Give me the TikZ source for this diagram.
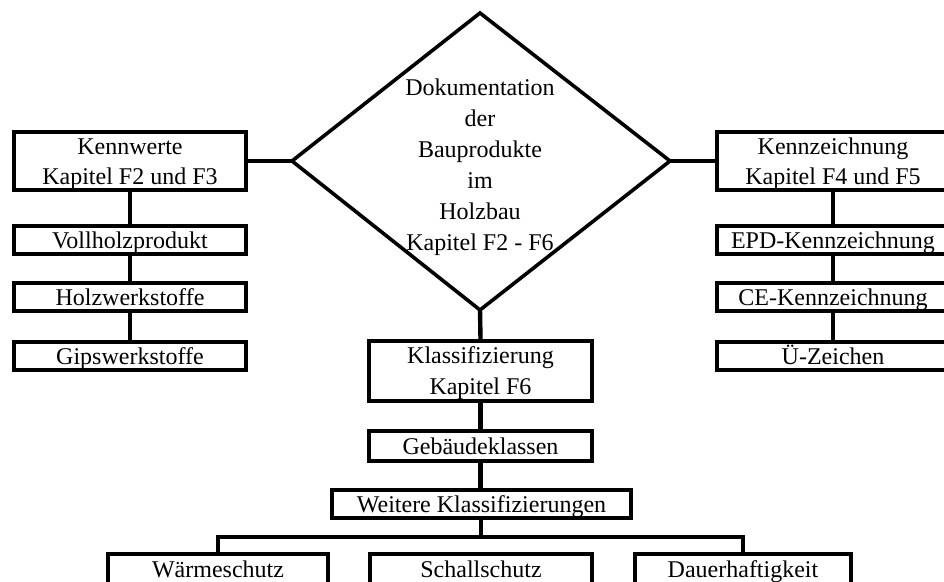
\documentclass[tikz,border=0pt]{standalone}
\usepackage{fontspec}
\setmainfont{Liberation Serif}
\begin{document}
\begin{tikzpicture}[x=1pt,y=-1pt,
  every node/.style={font=\fontsize{24}{30}\selectfont},
  box/.style={draw, line width=4.4pt, inner sep=0pt, align=center, text height=20pt, text depth=4pt},
  mbox/.style={draw, line width=4.4pt, inner sep=0pt, align=center},
  conn/.style={line width=4.4pt}]
\useasboundingbox (0,0) rectangle (944,581);
\clip (0,0) rectangle (944,581);
\fill[white] (0,0) rectangle (944,581);
% diamond
\coordinate (dt) at (480,13);
\coordinate (dl) at (292,161);
\coordinate (dr) at (670,161);
\coordinate (db) at (480,310);
\draw[line width=3.6pt, line join=miter] (dt) -- (dr) -- (db) -- (dl) -- cycle;
\node[align=center, font=\fontsize{24}{31}\selectfont] (dtext) at (480,167)
  {Dokumentation\\der\\Bauprodukte\\im\\Holzbau\\Kapitel F2 - F6};
% left column
\node[mbox, minimum width=232pt, minimum height=58pt] (kw) at (130,161) {\rule{0pt}{23pt}Kennwerte\\Kapitel F2 und F3};
\node[box, minimum width=232pt, minimum height=28pt] (vh) at (130,240) {Vollholzprodukt};
\node[box, minimum width=232pt, minimum height=28pt] (hw) at (130,297) {Holzwerkstoffe};
\node[box, minimum width=232pt, minimum height=28pt] (gw) at (130,356) {Gipswerkstoffe};
% right column
\node[mbox, minimum width=232pt, minimum height=58pt] (kz) at (833,161) {\rule{0pt}{23pt}Kennzeichnung\\Kapitel F4 und F5};
\node[box, minimum width=232pt, minimum height=28pt] (epd) at (833,240) {EPD-Kennzeichnung};
\node[box, minimum width=232pt, minimum height=28pt] (ce) at (833,297) {CE-Kennzeichnung};
\node[box, minimum width=232pt, minimum height=28pt] (uz) at (833,356) {Ü-Zeichen};
% center column
\node[mbox, minimum width=223pt, minimum height=60pt, font=\fontsize{24}{31}\selectfont] (kl) at (480.5,371) {\rule{0pt}{22pt}Klassifizierung\\Kapitel F6};
\node[box, minimum width=223pt, minimum height=30pt] (gk) at (480.5,446) {Gebäudeklassen};
\node[box, minimum width=299pt, minimum height=28pt] (wk) at (481.5,504) {Weitere Klassifizierungen};
% bottom row
\node[box, minimum width=220pt, minimum height=30pt] (ws) at (218,569) {Wärmeschutz};
\node[box, minimum width=222pt, minimum height=30pt] (ss) at (481,569) {Schallschutz};
\node[box, minimum width=216pt, minimum height=30pt] (dh) at (743,569) {Dauerhaftigkeit};
% connectors
\draw[conn] (kw.east) -- (dl);
\draw[conn] (dr) -- (kz.west);
\draw[conn] (db) -- (kl.north);
\draw[conn] (kw.south) -- (vh.north);
\draw[conn] (vh.south) -- (hw.north);
\draw[conn] (hw.south) -- (gw.north);
\draw[conn] (kz.south) -- (epd.north);
\draw[conn] (epd.south) -- (ce.north);
\draw[conn] (ce.south) -- (uz.north);
\draw[conn] (kl.south) -- (gk.north);
\draw[conn] (gk.south) -- (gk.south |- wk.north);
\coordinate (bus) at (481,537);
\draw[conn] (wk.south -| bus) -- (bus);
\draw[conn, line join=miter] ([yshift=-2pt]ws.north) -- (ws.north |- bus) -- (dh.north |- bus) -- ([yshift=-2pt]dh.north);
\end{tikzpicture}
\end{document}
